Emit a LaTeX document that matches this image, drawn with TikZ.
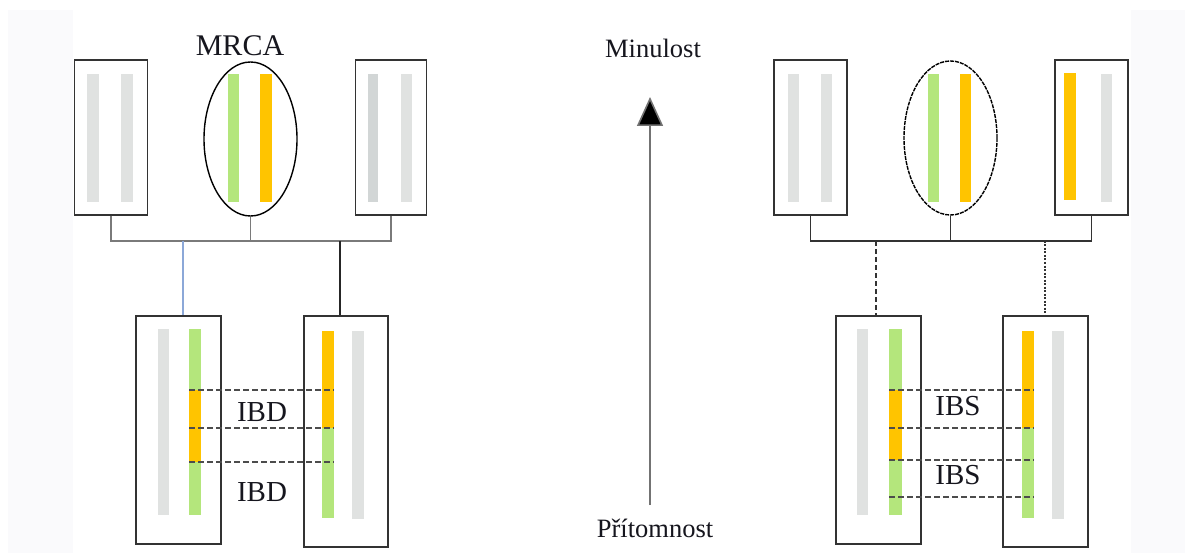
\documentclass[tikz,border=0pt]{standalone}
\usepackage{fontspec}
\setmainfont{Liberation Serif}
\usetikzlibrary{shapes.geometric,arrows.meta}
\definecolor{bargrey}{HTML}{E0E2E1}
\definecolor{bargreyd}{HTML}{D2D6D6}
\definecolor{bargreen}{HTML}{B4E67C}
\definecolor{barorange}{HTML}{FFC400}
\definecolor{boxline}{HTML}{333333}
\definecolor{linkgrey}{HTML}{7A7A7A}
\definecolor{linkblue}{HTML}{8CA8D8}
\definecolor{txt}{HTML}{16161E}
\definecolor{margin}{HTML}{FAFAFC}
\begin{document}
\begin{tikzpicture}[x=1pt,y=-1pt,
  box/.style={draw=boxline,line width=1.5pt,rectangle,inner sep=0pt,fill=white},
  oval/.style={draw=black,line width=1.4pt,ellipse,inner sep=0pt},
  link/.style={draw=linkgrey,line width=1.3pt},
  linkdark/.style={draw=boxline,line width=1.3pt},
  ibdline/.style={draw=black!70,line width=1.5pt,dash pattern=on 6pt off 3pt},
  lbl/.style={text=txt,font=\fontsize{29}{30}\selectfont,anchor=base,inner sep=0pt},
  axislbl/.style={text=txt,font=\fontsize{26.5}{28}\selectfont,anchor=base,inner sep=0pt}]
% page and faint side margins
\fill[white] (0,0) rectangle (1185,553);
\fill[margin] (8,10) rectangle (73,553);
\fill[margin] (1131,10) rectangle (1185,553);
\useasboundingbox (0,0) rectangle (1185,553);

% ---------- left family: ancestors ----------
\node[box,minimum width=73,minimum height=155] (la) at (111,137.5) {};
\fill[bargrey] (87,74) rectangle (99,202);
\fill[bargrey] (121,74) rectangle (133,202);
\node[oval,minimum width=93,minimum height=154] (lm) at (250.5,139) {};
\fill[bargreen] (228,74) rectangle (239,202);
\fill[barorange] (260,74) rectangle (272,202);
\node[box,minimum width=71,minimum height=155] (lc) at (391,137.5) {};
\fill[bargreyd] (368,74) rectangle (378,202);
\fill[bargrey] (401,74) rectangle (412,202);
\node[text=txt,font=\fontsize{30}{31}\selectfont,anchor=base,inner sep=0pt] (mrca) at (240,56) {MRCA};

\coordinate (lj) at (252,241);
\draw[link] (la.south) -- (la.south |- lj) -- (lc.south |- lj) -- (lc.south);
\draw[link] (lm.south) -- (lm.south |- lj);

% ---------- left family: descendants ----------
\node[box,minimum width=85,minimum height=228] (ld1) at (178.5,430) {};
\node[box,minimum width=84,minimum height=231] (ld2) at (346,431.5) {};
\fill[bargrey] (158,329) rectangle (169,515);
\fill[bargreen] (189,329) rectangle (201,390);
\fill[barorange] (189,390) rectangle (201,462);
\fill[bargreen] (189,462) rectangle (201,515);
\fill[barorange] (322,331) rectangle (334,428);
\fill[bargreen] (322,428) rectangle (334,518);
\fill[bargrey] (352,331) rectangle (364,519);

\coordinate (lb1) at (183,241);
\coordinate (lb2) at (340,241);
\draw[draw=linkblue,line width=1.3pt] (lb1) -- (lb1 |- ld1.north);
\draw[draw=black!85,line width=1.4pt] (lb2) -- (lb2 |- ld2.north);

\coordinate (ls1) at (189,390); \coordinate (le1) at (334,390);
\coordinate (ls2) at (189,428); \coordinate (le2) at (334,428);
\coordinate (ls3) at (189,462); \coordinate (le3) at (334,462);
\draw[ibdline] (ls1) -- (le1);
\draw[ibdline] (ls2) -- (le2);
\draw[ibdline] (ls3) -- (le3);
\node[lbl] (ibd1) at (262,421) {IBD};
\node[lbl] (ibd2) at (262,501) {IBD};

% ---------- time axis ----------
\node[axislbl] (past) at (653,58) {Minulost};
\node[axislbl] (now) at (655,537) {Přítomnost};
\coordinate (tb) at (650,505);
\coordinate (tt) at (650,97);
\draw[draw=black!55,line width=1.6pt,-{Triangle[length=29pt,width=26pt,fill=black]}] (tb) -- (tt);

% ---------- right family: ancestors ----------
\node[box,minimum width=73,minimum height=155] (ra) at (810.5,137.5) {};
\fill[bargrey] (788,74) rectangle (799,202);
\fill[bargrey] (821,74) rectangle (832,202);
\node[oval,minimum width=93,minimum height=154,dash pattern=on 4pt off 1pt] (rm) at (950.5,138) {};
\fill[bargreen] (928,74) rectangle (939,202);
\fill[barorange] (960,74) rectangle (971,202);
\node[box,minimum width=73,minimum height=155] (rc) at (1091.5,137.5) {};
\fill[barorange] (1064,73) rectangle (1076,200);
\fill[bargrey] (1101,74) rectangle (1112,202);

\coordinate (rj) at (953,241);
\draw[linkdark] (ra.south) -- (ra.south |- rj) -- (rc.south |- rj) -- (rc.south);
\draw[linkdark] (rm.south) -- (rm.south |- rj);

% ---------- right family: descendants ----------
\node[box,minimum width=85,minimum height=228] (rd1) at (878.5,430) {};
\node[box,minimum width=85,minimum height=231] (rd2) at (1045.5,431.5) {};
\fill[bargrey] (857,329) rectangle (868,515);
\fill[bargreen] (889,329) rectangle (902,390);
\fill[barorange] (889,390) rectangle (902,460);
\fill[bargreen] (889,460) rectangle (902,515);
\fill[barorange] (1022,331) rectangle (1034,428);
\fill[bargreen] (1022,428) rectangle (1034,518);
\fill[bargrey] (1052,331) rectangle (1064,519);

\coordinate (rb1) at (876,241);
\coordinate (rb2) at (1045,241);
\draw[draw=boxline,line width=1.3pt,dash pattern=on 5pt off 3pt] (rb1) -- (rb1 |- rd1.north);
\draw[draw=boxline,line width=1.6pt,dash pattern=on 2pt off 1.5pt] (rb2) -- (rb2 |- rd2.north);

\coordinate (rs1) at (889,390); \coordinate (re1) at (1034,390);
\coordinate (rs2) at (889,428); \coordinate (re2) at (1034,428);
\coordinate (rs3) at (889,460); \coordinate (re3) at (1034,460);
\coordinate (rs4) at (889,497); \coordinate (re4) at (1034,497);
\draw[ibdline] (rs1) -- (re1);
\draw[ibdline] (rs2) -- (re2);
\draw[ibdline] (rs3) -- (re3);
\draw[ibdline] (rs4) -- (re4);
\node[lbl] (ibs1) at (958,415) {IBS};
\node[lbl] (ibs2) at (958,484) {IBS};
\end{tikzpicture}
\end{document}
